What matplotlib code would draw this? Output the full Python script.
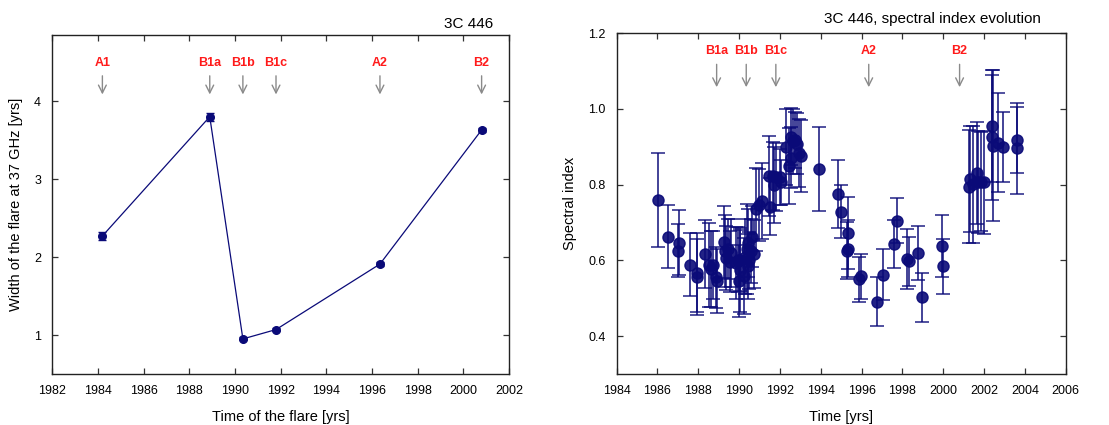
import numpy as np
import matplotlib.pyplot as plt

plt.rcParams['font.family'] = ['Liberation Sans', 'DejaVu Sans']

# Flare widths at 37 GHz
flare_names = ['A1', 'B1a', 'B1b', 'B1c', 'A2', 'B2']
flare_time = [1984.2, 1988.9, 1990.35, 1991.8, 1996.35, 2000.8]
flare_width = [2.27, 3.80, 0.95, 1.07, 1.91, 3.63]
flare_width_err = [0.05, 0.05, 0.02, 0.02, 0.03, 0.02]

# Spectral index evolution
si_time = [1986.04, 1986.50, 1987.05, 1987.02, 1987.60, 1987.92, 1987.94, 1988.34,
           1988.52, 1988.62, 1988.73, 1988.88, 1988.92, 1989.27, 1989.32, 1989.36,
           1989.47, 1989.55, 1989.60, 1989.85, 1989.95, 1989.98, 1990.02, 1990.05,
           1990.25, 1990.30, 1990.38, 1990.42, 1990.45, 1990.50, 1990.58, 1990.65,
           1990.72, 1990.85, 1990.97, 1991.10, 1991.49, 1991.47, 1991.65, 1991.73,
           1991.82, 1991.98, 1992.07, 1992.29, 1992.45, 1992.52, 1992.56, 1992.64,
           1992.75, 1992.85, 1992.95, 1993.02, 1993.90, 1994.85, 1994.97, 1995.31,
           1995.34, 1995.29, 1995.88, 1995.95, 1996.75, 1997.06, 1997.58, 1997.71,
           1998.23, 1998.31, 1998.75, 1998.95, 1999.95, 2000.01, 2001.27, 2001.33,
           2001.45, 2001.63, 2001.72, 2001.87, 2002.00, 2002.41, 2002.38, 2002.46,
           2002.69, 2002.93, 2003.59, 2003.62]
si_value = [0.760, 0.663, 0.647, 0.626, 0.589, 0.568, 0.556, 0.617,
            0.588, 0.578, 0.587, 0.555, 0.545, 0.648, 0.624, 0.606,
            0.630, 0.597, 0.620, 0.593, 0.602, 0.545, 0.575, 0.600,
            0.558, 0.610, 0.630, 0.645, 0.584, 0.600, 0.624, 0.663,
            0.617, 0.735, 0.745, 0.756, 0.742, 0.823, 0.823, 0.800,
            0.820, 0.820, 0.806, 0.900, 0.850, 0.871, 0.927, 0.914,
            0.918, 0.908, 0.883, 0.876, 0.841, 0.775, 0.729, 0.672,
            0.631, 0.626, 0.550, 0.558, 0.491, 0.562, 0.643, 0.705,
            0.604, 0.598, 0.619, 0.502, 0.638, 0.584, 0.795, 0.815,
            0.801, 0.830, 0.807, 0.808, 0.806, 0.955, 0.925, 0.903,
            0.911, 0.900, 0.918, 0.896]
si_err = [0.124, 0.083, 0.085, 0.070, 0.084, 0.105, 0.100, 0.090,
          0.110, 0.100, 0.090, 0.080, 0.085, 0.095, 0.095, 0.085,
          0.080, 0.080, 0.090, 0.095, 0.085, 0.095, 0.110, 0.080,
          0.100, 0.100, 0.120, 0.090, 0.085, 0.075, 0.085, 0.080,
          0.090, 0.110, 0.095, 0.100, 0.075, 0.105, 0.090, 0.100,
          0.090, 0.075, 0.060, 0.100, 0.100, 0.080, 0.075, 0.085,
          0.075, 0.080, 0.090, 0.095, 0.110, 0.090, 0.070, 0.095,
          0.075, 0.075, 0.060, 0.060, 0.064, 0.067, 0.063, 0.060,
          0.080, 0.065, 0.071, 0.064, 0.082, 0.073, 0.150, 0.140,
          0.155, 0.135, 0.135, 0.130, 0.136, 0.147, 0.165, 0.200,
          0.130, 0.092, 0.088, 0.120]

navy = '#0a0a78'

fig = plt.figure(figsize=(11.09, 4.25), dpi=100)
ax1 = fig.add_axes([0.047, 0.12, 0.412, 0.798])
ax2 = fig.add_axes([0.556, 0.12, 0.405, 0.802])


def style_axes(ax):
    for s in ax.spines.values():
        s.set_linewidth(1.0)
        s.set_color('#222222')
    ax.tick_params(direction='in', top=True, right=True, length=4,
                   width=0.9, labelsize=9, pad=8, color='#333333')


def mark_flares(ax, names, times, y_text, y_start, y_end):
    for n, t in zip(names, times):
        ax.text(t, y_text, n, color='#ff1a1a', fontsize=9,
                fontweight='bold', ha='center', va='center')
        ax.annotate('', xy=(t, y_end), xytext=(t, y_start),
                    arrowprops=dict(arrowstyle='->', color='#8a8a8a',
                                    lw=1.0, mutation_scale=14))


# Left panel: flare width vs time
ax1.errorbar(flare_time, flare_width, yerr=flare_width_err, color=navy,
             lw=0.9, marker='o', ms=5.5, capsize=3, elinewidth=1.0)
ax1.set_xlim(1982, 2002)
ax1.set_ylim(0.5, 4.85)
ax1.set_xticks(np.arange(1982, 2003, 2))
ax1.set_yticks([1, 2, 3, 4])
style_axes(ax1)
mark_flares(ax1, flare_names, flare_time, 4.49, 4.36, 4.05)
ax1.set_xlabel('Time of the flare [yrs]', fontsize=10.5, labelpad=9.5)
ax1.set_ylabel('Width of the flare at 37 GHz [yrs]', fontsize=10.5, labelpad=8)
ax1.text(0.965, 1.012, '3C 446', transform=ax1.transAxes, ha='right',
         va='bottom', fontsize=11)

# Right panel: spectral index evolution
ax2.errorbar(si_time, si_value, yerr=si_err, fmt='o', color=navy, ms=8,
             ecolor=navy, elinewidth=1.2, capsize=5, capthick=1.1, alpha=0.9)
ax2.set_xlim(1984, 2006)
ax2.set_ylim(0.3, 1.2)
ax2.set_xticks(np.arange(1984, 2007, 2))
ax2.set_yticks([0.4, 0.6, 0.8, 1.0, 1.2])
ax2.set_yticklabels(['0.4', '0.6', '0.8', '1.0', '1.2'])
style_axes(ax2)
mark_flares(ax2, flare_names[1:], flare_time[1:], 1.153, 1.125, 1.05)
ax2.set_xlabel('Time [yrs]', fontsize=10.5, labelpad=9.5)
ax2.set_ylabel('Spectral index', fontsize=10.5, labelpad=8)
ax2.text(0.945, 1.022, '3C 446, spectral index evolution',
         transform=ax2.transAxes, ha='right', va='bottom', fontsize=11)

fig.savefig('out.png', dpi=100)
